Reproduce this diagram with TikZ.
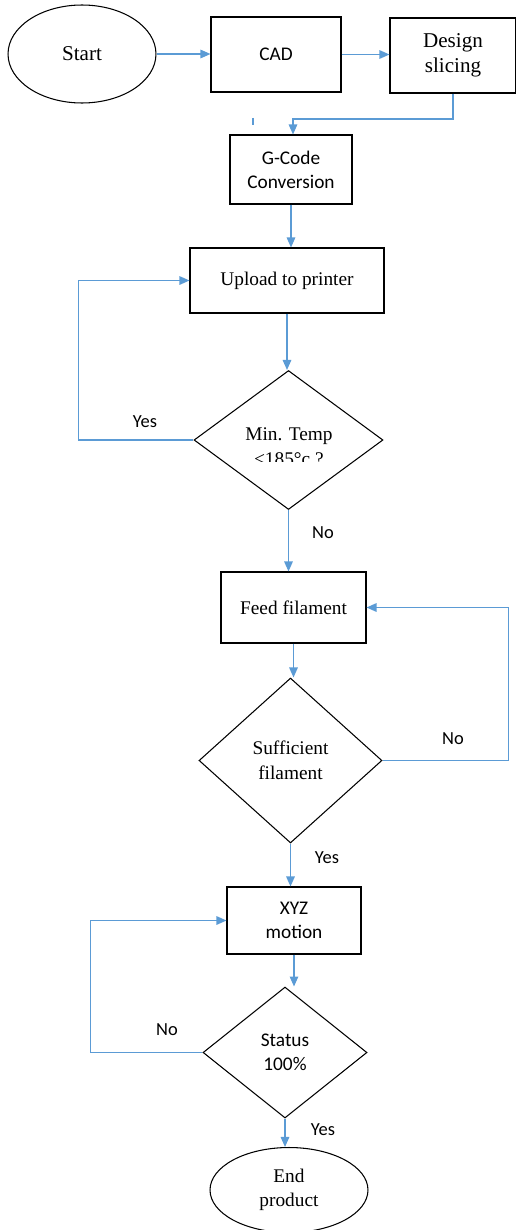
\documentclass[tikz,border=0pt]{standalone}
\usepackage{fontspec}
\setmainfont{Liberation Serif}
\newfontfamily\calfont{Carlito}
\usetikzlibrary{arrows.meta,shapes.geometric,positioning}
\definecolor{flowblue}{RGB}{91,155,213}

\tikzset{
    box/.style={draw, line width=0.6pt, inner sep=1pt, align=center},
    oval/.style={draw, ellipse, line width=0.6pt, inner sep=0pt, align=center},
    decision/.style={draw, diamond, line width=0.6pt, inner sep=0pt, align=center},
    sans/.style={font=\calfont\fontsize{11}{13.6}\selectfont},
    serif/.style={font=\fontsize{11}{14}\selectfont},
    flow/.style={-{Triangle[length=2mm,width=1.7mm]}, flowblue, line width=0.8pt},
    answer/.style={font=\calfont\fontsize{10.5}{12}\selectfont, inner sep=0pt},
}

\begin{document}
\begin{tikzpicture}[x=0.02cm,y=-0.02cm]
\useasboundingbox (0,0) rectangle (515,1230);

% top row
\node (start) [oval, minimum width=2.96cm, minimum height=1.96cm, font=\fontsize{12}{14}\selectfont] at (82,54) {Start};
\node (cad) [box, sans, minimum width=2.6cm, minimum height=1.5cm] at (276,54.5) {CAD};
\node (design) [box, serif, font=\fontsize{12}{14}\selectfont, minimum width=2.52cm, minimum height=1.5cm] at (453,55.5) {Design\\slicing};

% main column
\node (gcode) [box, sans, minimum width=2.44cm, minimum height=1.38cm] at (291,169.5) {G-Code\\Conversion};
\node (upload) [box, serif, minimum width=3.88cm, minimum height=1.3cm] at (287,280.5) {Upload to printer};
\node (mintemp) [decision, minimum width=3.78cm, minimum height=2.78cm] at (288.5,440) {};
\node (feed) [box, serif, minimum width=2.9cm, minimum height=1.42cm] at (293.5,607.5) {Feed filament};
\node (suff) [decision, serif, minimum width=3.66cm, minimum height=3.3cm] at (290.5,760.5) {Sufficient\\filament};
\node (xyz) [box, sans, minimum width=2.68cm, minimum height=1.34cm] at (294,920.5) {XYZ\\motion};
\node (status) [decision, sans, minimum width=3.28cm, minimum height=2.62cm] at (285,1052.5) {Status\\100\%};
\node (endp) [oval, serif, minimum width=3.16cm, minimum height=1.7cm] at (289,1190) {End\\product};

% text of the temperature check, cut off at the bottom
\begin{scope}
    \clip (200,420) rectangle (380,461);
    \node (mintemptext) [serif, align=center, inner sep=0pt] at (289,447) {Min. Temp\\≤185°c ?};
\end{scope}

% connectors
\draw [flow] (start.east) -- (start.east -| cad.west);
\draw [flow] (cad.east) -- (cad.east -| design.west);
\coordinate (join) at (293,119);
\draw [flow] (design.south) |- (join) -- (join |- gcode.north);
\draw [flowblue, line width=0.8pt] (253,118) -- (253,125);

\foreach \a/\b in {gcode/upload, upload/mintemp, mintemp/feed, feed/suff, suff/xyz, xyz/status, status/endp}
    \draw [flow] (\a.south) -- (\a.south |- \b.north);

\draw [flow] (mintemp.west) -- ++(-115,0) |- (upload.west);
\draw [flow] (suff.east) -- ++(126,0) |- (feed.east);
\draw [flow] (status.west) -- ++(-112,0) |- (xyz.west);

% answers
\node (yes1) [answer] at (145,422) {Yes};
\node (no1) [answer] at (323,533) {No};
\node (no2) [answer] at (453,739) {No};
\node (yes2) [answer] at (327,858) {Yes};
\node (no3) [answer] at (167,1030) {No};
\node (yes3) [answer] at (323,1130) {Yes};

\end{tikzpicture}
\end{document}
